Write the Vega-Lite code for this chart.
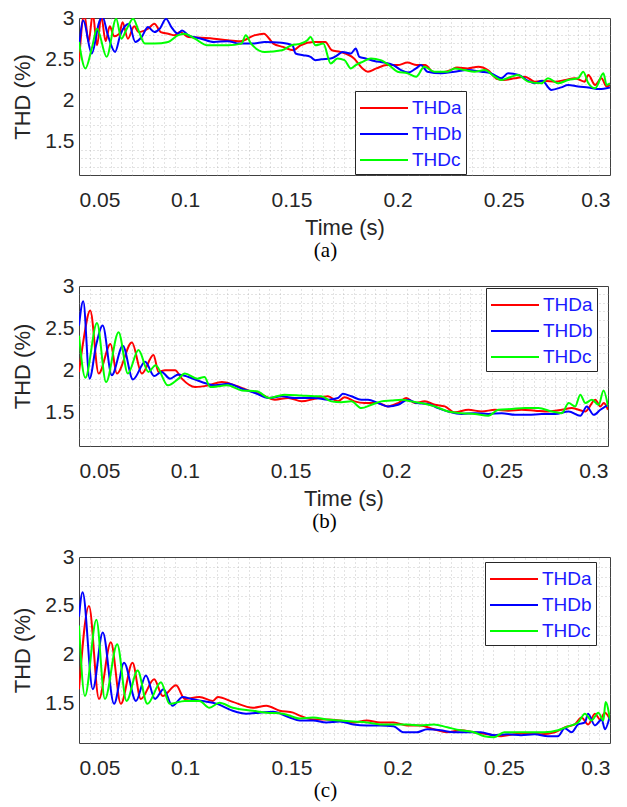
{
"$schema": "https://vega.github.io/schema/vega-lite/v6.json",
"background": "white",
"padding": {"left": 11, "top": 6, "right": 10, "bottom": 5},
"config": {
  "view": {"stroke": "#404040", "strokeWidth": 1},
  "font": "Liberation Sans",
  "axis": {"labelFont": "Liberation Sans", "labelFontSize": 21, "labelColor": "#262626", "titleFont": "Liberation Sans", "titleFontSize": 22, "titleColor": "#262626", "titleFontWeight": "normal", "ticks": false, "domain": false, "gridColor": "#d9d9d9", "gridWidth": 1},
  "legend": {"orient": "none", "symbolType": "M-2,0H2", "symbolSize": 576, "symbolStrokeWidth": 2, "symbolOffset": 12, "labelFontSize": 19, "labelColor": "#1a1aff", "labelFont": "Liberation Sans", "strokeColor": "#262626", "fillColor": "white", "padding": 4, "rowPadding": 3, "labelOffset": 15, "title": null},
  "title": {"font": "Liberation Serif", "fontSize": 21, "fontWeight": "normal", "color": "black", "orient": "bottom", "anchor": "middle", "dx": -19, "offset": 2},
  "concat": {"spacing": 12}
},
"datasets": {"thd": [
{"p":"a","s":"THDa","t":0.05,"v":2.47},{"p":"a","s":"THDa","t":0.0525,"v":3.05},{"p":"a","s":"THDa","t":0.0545,"v":2.71},{"p":"a","s":"THDa","t":0.0565,"v":3.05},{"p":"a","s":"THDa","t":0.0585,"v":2.67},{"p":"a","s":"THDa","t":0.0605,"v":3.02},{"p":"a","s":"THDa","t":0.0625,"v":2.72},{"p":"a","s":"THDa","t":0.0645,"v":2.9},{"p":"a","s":"THDa","t":0.0665,"v":2.78},{"p":"a","s":"THDa","t":0.069,"v":2.81},{"p":"a","s":"THDa","t":0.0705,"v":2.95},{"p":"a","s":"THDa","t":0.073,"v":2.75},{"p":"a","s":"THDa","t":0.076,"v":2.9},{"p":"a","s":"THDa","t":0.078,"v":2.83},{"p":"a","s":"THDa","t":0.0825,"v":2.87},{"p":"a","s":"THDa","t":0.0855,"v":2.93},{"p":"a","s":"THDa","t":0.0885,"v":2.83},{"p":"a","s":"THDa","t":0.092,"v":2.81},{"p":"a","s":"THDa","t":0.095,"v":2.79},{"p":"a","s":"THDa","t":0.0975,"v":2.83},{"p":"a","s":"THDa","t":0.1015,"v":2.77},{"p":"a","s":"THDa","t":0.1075,"v":2.76},{"p":"a","s":"THDa","t":0.1135,"v":2.75},{"p":"a","s":"THDa","t":0.12,"v":2.73},{"p":"a","s":"THDa","t":0.126,"v":2.72},{"p":"a","s":"THDa","t":0.1325,"v":2.79},{"p":"a","s":"THDa","t":0.137,"v":2.81},{"p":"a","s":"THDa","t":0.1415,"v":2.69},{"p":"a","s":"THDa","t":0.146,"v":2.65},{"p":"a","s":"THDa","t":0.151,"v":2.61},{"p":"a","s":"THDa","t":0.1543,"v":2.67},{"p":"a","s":"THDa","t":0.1606,"v":2.71},{"p":"a","s":"THDa","t":0.166,"v":2.71},{"p":"a","s":"THDa","t":0.169,"v":2.61},{"p":"a","s":"THDa","t":0.173,"v":2.59},{"p":"a","s":"THDa","t":0.1795,"v":2.51},{"p":"a","s":"THDa","t":0.1835,"v":2.39},{"p":"a","s":"THDa","t":0.186,"v":2.35},{"p":"a","s":"THDa","t":0.19,"v":2.39},{"p":"a","s":"THDa","t":0.195,"v":2.43},{"p":"a","s":"THDa","t":0.2,"v":2.43},{"p":"a","s":"THDa","t":0.2047,"v":2.46},{"p":"a","s":"THDa","t":0.209,"v":2.43},{"p":"a","s":"THDa","t":0.213,"v":2.43},{"p":"a","s":"THDa","t":0.2165,"v":2.35},{"p":"a","s":"THDa","t":0.22,"v":2.34},{"p":"a","s":"THDa","t":0.225,"v":2.37},{"p":"a","s":"THDa","t":0.228,"v":2.4},{"p":"a","s":"THDa","t":0.233,"v":2.39},{"p":"a","s":"THDa","t":0.238,"v":2.41},{"p":"a","s":"THDa","t":0.2425,"v":2.37},{"p":"a","s":"THDa","t":0.247,"v":2.26},{"p":"a","s":"THDa","t":0.25,"v":2.25},{"p":"a","s":"THDa","t":0.255,"v":2.27},{"p":"a","s":"THDa","t":0.26,"v":2.29},{"p":"a","s":"THDa","t":0.2646,"v":2.23},{"p":"a","s":"THDa","t":0.269,"v":2.24},{"p":"a","s":"THDa","t":0.274,"v":2.23},{"p":"a","s":"THDa","t":0.279,"v":2.25},{"p":"a","s":"THDa","t":0.2835,"v":2.27},{"p":"a","s":"THDa","t":0.288,"v":2.23},{"p":"a","s":"THDa","t":0.2898,"v":2.31},{"p":"a","s":"THDa","t":0.293,"v":2.19},{"p":"a","s":"THDa","t":0.296,"v":2.27},{"p":"a","s":"THDa","t":0.2984,"v":2.17},{"p":"a","s":"THDa","t":0.3,"v":2.19},
{"p":"a","s":"THDb","t":0.05,"v":2.63},{"p":"a","s":"THDb","t":0.052,"v":2.97},{"p":"a","s":"THDb","t":0.056,"v":2.57},{"p":"a","s":"THDb","t":0.0595,"v":2.95},{"p":"a","s":"THDb","t":0.061,"v":3.02},{"p":"a","s":"THDb","t":0.0635,"v":2.8},{"p":"a","s":"THDb","t":0.067,"v":2.59},{"p":"a","s":"THDb","t":0.0695,"v":2.8},{"p":"a","s":"THDb","t":0.0735,"v":2.93},{"p":"a","s":"THDb","t":0.0765,"v":2.71},{"p":"a","s":"THDb","t":0.0795,"v":2.77},{"p":"a","s":"THDb","t":0.0825,"v":2.89},{"p":"a","s":"THDb","t":0.0855,"v":2.83},{"p":"a","s":"THDb","t":0.088,"v":2.87},{"p":"a","s":"THDb","t":0.091,"v":2.99},{"p":"a","s":"THDb","t":0.0935,"v":2.89},{"p":"a","s":"THDb","t":0.0965,"v":2.81},{"p":"a","s":"THDb","t":0.0985,"v":2.85},{"p":"a","s":"THDb","t":0.1015,"v":2.79},{"p":"a","s":"THDb","t":0.1075,"v":2.75},{"p":"a","s":"THDb","t":0.1135,"v":2.71},{"p":"a","s":"THDb","t":0.12,"v":2.72},{"p":"a","s":"THDb","t":0.1255,"v":2.69},{"p":"a","s":"THDb","t":0.132,"v":2.69},{"p":"a","s":"THDb","t":0.1375,"v":2.71},{"p":"a","s":"THDb","t":0.1455,"v":2.7},{"p":"a","s":"THDb","t":0.1505,"v":2.67},{"p":"a","s":"THDb","t":0.152,"v":2.57},{"p":"a","s":"THDb","t":0.1555,"v":2.55},{"p":"a","s":"THDb","t":0.159,"v":2.53},{"p":"a","s":"THDb","t":0.1613,"v":2.49},{"p":"a","s":"THDb","t":0.164,"v":2.5},{"p":"a","s":"THDb","t":0.1685,"v":2.51},{"p":"a","s":"THDb","t":0.1717,"v":2.55},{"p":"a","s":"THDb","t":0.174,"v":2.59},{"p":"a","s":"THDb","t":0.178,"v":2.57},{"p":"a","s":"THDb","t":0.1803,"v":2.63},{"p":"a","s":"THDb","t":0.182,"v":2.53},{"p":"a","s":"THDb","t":0.185,"v":2.51},{"p":"a","s":"THDb","t":0.189,"v":2.48},{"p":"a","s":"THDb","t":0.1937,"v":2.46},{"p":"a","s":"THDb","t":0.198,"v":2.43},{"p":"a","s":"THDb","t":0.2016,"v":2.37},{"p":"a","s":"THDb","t":0.205,"v":2.34},{"p":"a","s":"THDb","t":0.2087,"v":2.39},{"p":"a","s":"THDb","t":0.211,"v":2.43},{"p":"a","s":"THDb","t":0.214,"v":2.35},{"p":"a","s":"THDb","t":0.2205,"v":2.33},{"p":"a","s":"THDb","t":0.2268,"v":2.35},{"p":"a","s":"THDb","t":0.233,"v":2.37},{"p":"a","s":"THDb","t":0.2394,"v":2.35},{"p":"a","s":"THDb","t":0.244,"v":2.33},{"p":"a","s":"THDb","t":0.2488,"v":2.27},{"p":"a","s":"THDb","t":0.252,"v":2.33},{"p":"a","s":"THDb","t":0.257,"v":2.31},{"p":"a","s":"THDb","t":0.2614,"v":2.24},{"p":"a","s":"THDb","t":0.2646,"v":2.21},{"p":"a","s":"THDb","t":0.268,"v":2.24},{"p":"a","s":"THDb","t":0.2724,"v":2.13},{"p":"a","s":"THDb","t":0.277,"v":2.16},{"p":"a","s":"THDb","t":0.2803,"v":2.19},{"p":"a","s":"THDb","t":0.285,"v":2.17},{"p":"a","s":"THDb","t":0.2898,"v":2.16},{"p":"a","s":"THDb","t":0.295,"v":2.14},{"p":"a","s":"THDb","t":0.3,"v":2.16},
{"p":"a","s":"THDc","t":0.05,"v":2.71},{"p":"a","s":"THDc","t":0.053,"v":2.39},{"p":"a","s":"THDc","t":0.056,"v":2.63},{"p":"a","s":"THDc","t":0.0585,"v":2.87},{"p":"a","s":"THDc","t":0.063,"v":2.53},{"p":"a","s":"THDc","t":0.0675,"v":2.99},{"p":"a","s":"THDc","t":0.07,"v":2.75},{"p":"a","s":"THDc","t":0.0725,"v":2.87},{"p":"a","s":"THDc","t":0.0755,"v":2.99},{"p":"a","s":"THDc","t":0.078,"v":2.85},{"p":"a","s":"THDc","t":0.081,"v":2.69},{"p":"a","s":"THDc","t":0.0855,"v":2.69},{"p":"a","s":"THDc","t":0.092,"v":2.71},{"p":"a","s":"THDc","t":0.0965,"v":2.79},{"p":"a","s":"THDc","t":0.0995,"v":2.81},{"p":"a","s":"THDc","t":0.1045,"v":2.75},{"p":"a","s":"THDc","t":0.1105,"v":2.67},{"p":"a","s":"THDc","t":0.12,"v":2.67},{"p":"a","s":"THDc","t":0.1265,"v":2.69},{"p":"a","s":"THDc","t":0.1285,"v":2.79},{"p":"a","s":"THDc","t":0.131,"v":2.69},{"p":"a","s":"THDc","t":0.1375,"v":2.59},{"p":"a","s":"THDc","t":0.1455,"v":2.61},{"p":"a","s":"THDc","t":0.15,"v":2.67},{"p":"a","s":"THDc","t":0.1543,"v":2.69},{"p":"a","s":"THDc","t":0.1575,"v":2.73},{"p":"a","s":"THDc","t":0.159,"v":2.77},{"p":"a","s":"THDc","t":0.1613,"v":2.67},{"p":"a","s":"THDc","t":0.165,"v":2.69},{"p":"a","s":"THDc","t":0.1685,"v":2.45},{"p":"a","s":"THDc","t":0.1717,"v":2.51},{"p":"a","s":"THDc","t":0.175,"v":2.49},{"p":"a","s":"THDc","t":0.178,"v":2.39},{"p":"a","s":"THDc","t":0.1803,"v":2.43},{"p":"a","s":"THDc","t":0.1835,"v":2.47},{"p":"a","s":"THDc","t":0.1874,"v":2.51},{"p":"a","s":"THDc","t":0.192,"v":2.49},{"p":"a","s":"THDc","t":0.196,"v":2.43},{"p":"a","s":"THDc","t":0.2,"v":2.35},{"p":"a","s":"THDc","t":0.2047,"v":2.33},{"p":"a","s":"THDc","t":0.2087,"v":2.29},{"p":"a","s":"THDc","t":0.2126,"v":2.41},{"p":"a","s":"THDc","t":0.2173,"v":2.35},{"p":"a","s":"THDc","t":0.2236,"v":2.35},{"p":"a","s":"THDc","t":0.2268,"v":2.39},{"p":"a","s":"THDc","t":0.2315,"v":2.37},{"p":"a","s":"THDc","t":0.2362,"v":2.35},{"p":"a","s":"THDc","t":0.241,"v":2.37},{"p":"a","s":"THDc","t":0.2457,"v":2.29},{"p":"a","s":"THDc","t":0.2488,"v":2.25},{"p":"a","s":"THDc","t":0.2535,"v":2.29},{"p":"a","s":"THDc","t":0.2567,"v":2.31},{"p":"a","s":"THDc","t":0.2614,"v":2.23},{"p":"a","s":"THDc","t":0.2677,"v":2.21},{"p":"a","s":"THDc","t":0.2708,"v":2.27},{"p":"a","s":"THDc","t":0.2756,"v":2.21},{"p":"a","s":"THDc","t":0.2803,"v":2.25},{"p":"a","s":"THDc","t":0.285,"v":2.27},{"p":"a","s":"THDc","t":0.2874,"v":2.35},{"p":"a","s":"THDc","t":0.2898,"v":2.21},{"p":"a","s":"THDc","t":0.293,"v":2.15},{"p":"a","s":"THDc","t":0.2969,"v":2.33},{"p":"a","s":"THDc","t":0.2984,"v":2.19},{"p":"a","s":"THDc","t":0.3,"v":2.21},
{"p":"b","s":"THDa","t":0.05,"v":1.98},{"p":"b","s":"THDa","t":0.0522,"v":2.37},{"p":"b","s":"THDa","t":0.0553,"v":2.71},{"p":"b","s":"THDa","t":0.0593,"v":1.96},{"p":"b","s":"THDa","t":0.0649,"v":2.31},{"p":"b","s":"THDa","t":0.0679,"v":1.96},{"p":"b","s":"THDa","t":0.075,"v":2.33},{"p":"b","s":"THDa","t":0.0797,"v":1.96},{"p":"b","s":"THDa","t":0.0852,"v":2.18},{"p":"b","s":"THDa","t":0.0876,"v":1.98},{"p":"b","s":"THDa","t":0.0907,"v":2.0},{"p":"b","s":"THDa","t":0.0954,"v":2.0},{"p":"b","s":"THDa","t":0.0986,"v":1.9},{"p":"b","s":"THDa","t":0.1049,"v":1.8},{"p":"b","s":"THDa","t":0.1112,"v":1.82},{"p":"b","s":"THDa","t":0.1175,"v":1.86},{"p":"b","s":"THDa","t":0.1237,"v":1.82},{"p":"b","s":"THDa","t":0.13,"v":1.76},{"p":"b","s":"THDa","t":0.1363,"v":1.71},{"p":"b","s":"THDa","t":0.1426,"v":1.65},{"p":"b","s":"THDa","t":0.1489,"v":1.67},{"p":"b","s":"THDa","t":0.1552,"v":1.63},{"p":"b","s":"THDa","t":0.1613,"v":1.66},{"p":"b","s":"THDa","t":0.1676,"v":1.69},{"p":"b","s":"THDa","t":0.1724,"v":1.63},{"p":"b","s":"THDa","t":0.1755,"v":1.68},{"p":"b","s":"THDa","t":0.1802,"v":1.63},{"p":"b","s":"THDa","t":0.185,"v":1.61},{"p":"b","s":"THDa","t":0.1913,"v":1.61},{"p":"b","s":"THDa","t":0.196,"v":1.57},{"p":"b","s":"THDa","t":0.2008,"v":1.61},{"p":"b","s":"THDa","t":0.2047,"v":1.67},{"p":"b","s":"THDa","t":0.2087,"v":1.61},{"p":"b","s":"THDa","t":0.2134,"v":1.63},{"p":"b","s":"THDa","t":0.2182,"v":1.59},{"p":"b","s":"THDa","t":0.2229,"v":1.57},{"p":"b","s":"THDa","t":0.2276,"v":1.5},{"p":"b","s":"THDa","t":0.234,"v":1.53},{"p":"b","s":"THDa","t":0.2403,"v":1.51},{"p":"b","s":"THDa","t":0.2466,"v":1.53},{"p":"b","s":"THDa","t":0.2529,"v":1.52},{"p":"b","s":"THDa","t":0.2592,"v":1.53},{"p":"b","s":"THDa","t":0.2656,"v":1.52},{"p":"b","s":"THDa","t":0.2719,"v":1.51},{"p":"b","s":"THDa","t":0.2782,"v":1.53},{"p":"b","s":"THDa","t":0.2829,"v":1.55},{"p":"b","s":"THDa","t":0.2893,"v":1.51},{"p":"b","s":"THDa","t":0.294,"v":1.65},{"p":"b","s":"THDa","t":0.2964,"v":1.57},{"p":"b","s":"THDa","t":0.298,"v":1.61},{"p":"b","s":"THDa","t":0.3,"v":1.53},
{"p":"b","s":"THDb","t":0.05,"v":2.53},{"p":"b","s":"THDb","t":0.052,"v":2.82},{"p":"b","s":"THDb","t":0.055,"v":1.9},{"p":"b","s":"THDb","t":0.0581,"v":2.3},{"p":"b","s":"THDb","t":0.0612,"v":2.53},{"p":"b","s":"THDb","t":0.0655,"v":1.94},{"p":"b","s":"THDb","t":0.0707,"v":2.29},{"p":"b","s":"THDb","t":0.0755,"v":1.89},{"p":"b","s":"THDb","t":0.0813,"v":2.1},{"p":"b","s":"THDb","t":0.0855,"v":1.93},{"p":"b","s":"THDb","t":0.089,"v":1.98},{"p":"b","s":"THDb","t":0.093,"v":1.9},{"p":"b","s":"THDb","t":0.097,"v":1.95},{"p":"b","s":"THDb","t":0.1017,"v":1.92},{"p":"b","s":"THDb","t":0.108,"v":1.86},{"p":"b","s":"THDb","t":0.1143,"v":1.82},{"p":"b","s":"THDb","t":0.1206,"v":1.84},{"p":"b","s":"THDb","t":0.127,"v":1.78},{"p":"b","s":"THDb","t":0.1332,"v":1.73},{"p":"b","s":"THDb","t":0.1395,"v":1.67},{"p":"b","s":"THDb","t":0.1458,"v":1.69},{"p":"b","s":"THDb","t":0.152,"v":1.67},{"p":"b","s":"THDb","t":0.1613,"v":1.67},{"p":"b","s":"THDb","t":0.1676,"v":1.65},{"p":"b","s":"THDb","t":0.1724,"v":1.67},{"p":"b","s":"THDb","t":0.1747,"v":1.72},{"p":"b","s":"THDb","t":0.1787,"v":1.69},{"p":"b","s":"THDb","t":0.1834,"v":1.65},{"p":"b","s":"THDb","t":0.1866,"v":1.65},{"p":"b","s":"THDb","t":0.1913,"v":1.61},{"p":"b","s":"THDb","t":0.196,"v":1.57},{"p":"b","s":"THDb","t":0.2008,"v":1.59},{"p":"b","s":"THDb","t":0.2055,"v":1.65},{"p":"b","s":"THDb","t":0.2095,"v":1.61},{"p":"b","s":"THDb","t":0.215,"v":1.6},{"p":"b","s":"THDb","t":0.2197,"v":1.55},{"p":"b","s":"THDb","t":0.2245,"v":1.51},{"p":"b","s":"THDb","t":0.2308,"v":1.48},{"p":"b","s":"THDb","t":0.2371,"v":1.49},{"p":"b","s":"THDb","t":0.2434,"v":1.48},{"p":"b","s":"THDb","t":0.2498,"v":1.49},{"p":"b","s":"THDb","t":0.2561,"v":1.47},{"p":"b","s":"THDb","t":0.2624,"v":1.47},{"p":"b","s":"THDb","t":0.2687,"v":1.48},{"p":"b","s":"THDb","t":0.275,"v":1.48},{"p":"b","s":"THDb","t":0.2814,"v":1.51},{"p":"b","s":"THDb","t":0.2869,"v":1.46},{"p":"b","s":"THDb","t":0.29,"v":1.57},{"p":"b","s":"THDb","t":0.2932,"v":1.47},{"p":"b","s":"THDb","t":0.2964,"v":1.53},{"p":"b","s":"THDb","t":0.3,"v":1.59},
{"p":"b","s":"THDc","t":0.05,"v":2.41},{"p":"b","s":"THDc","t":0.053,"v":1.91},{"p":"b","s":"THDc","t":0.0585,"v":2.56},{"p":"b","s":"THDc","t":0.0628,"v":1.86},{"p":"b","s":"THDc","t":0.0687,"v":2.45},{"p":"b","s":"THDc","t":0.0731,"v":1.96},{"p":"b","s":"THDc","t":0.0781,"v":2.24},{"p":"b","s":"THDc","t":0.0828,"v":1.98},{"p":"b","s":"THDc","t":0.0862,"v":2.06},{"p":"b","s":"THDc","t":0.092,"v":1.82},{"p":"b","s":"THDc","t":0.097,"v":1.9},{"p":"b","s":"THDc","t":0.1,"v":1.96},{"p":"b","s":"THDc","t":0.106,"v":1.9},{"p":"b","s":"THDc","t":0.1093,"v":1.92},{"p":"b","s":"THDc","t":0.112,"v":1.8},{"p":"b","s":"THDc","t":0.12,"v":1.82},{"p":"b","s":"THDc","t":0.127,"v":1.76},{"p":"b","s":"THDc","t":0.134,"v":1.75},{"p":"b","s":"THDc","t":0.14,"v":1.67},{"p":"b","s":"THDc","t":0.147,"v":1.71},{"p":"b","s":"THDc","t":0.155,"v":1.7},{"p":"b","s":"THDc","t":0.1613,"v":1.69},{"p":"b","s":"THDc","t":0.1645,"v":1.69},{"p":"b","s":"THDc","t":0.1692,"v":1.63},{"p":"b","s":"THDc","t":0.174,"v":1.62},{"p":"b","s":"THDc","t":0.1787,"v":1.63},{"p":"b","s":"THDc","t":0.1834,"v":1.55},{"p":"b","s":"THDc","t":0.1882,"v":1.59},{"p":"b","s":"THDc","t":0.1929,"v":1.63},{"p":"b","s":"THDc","t":0.1976,"v":1.64},{"p":"b","s":"THDc","t":0.2024,"v":1.65},{"p":"b","s":"THDc","t":0.2071,"v":1.63},{"p":"b","s":"THDc","t":0.2118,"v":1.61},{"p":"b","s":"THDc","t":0.2182,"v":1.57},{"p":"b","s":"THDc","t":0.2245,"v":1.51},{"p":"b","s":"THDc","t":0.2308,"v":1.49},{"p":"b","s":"THDc","t":0.2371,"v":1.48},{"p":"b","s":"THDc","t":0.2434,"v":1.46},{"p":"b","s":"THDc","t":0.2482,"v":1.53},{"p":"b","s":"THDc","t":0.2545,"v":1.54},{"p":"b","s":"THDc","t":0.2608,"v":1.55},{"p":"b","s":"THDc","t":0.2671,"v":1.55},{"p":"b","s":"THDc","t":0.2735,"v":1.51},{"p":"b","s":"THDc","t":0.2782,"v":1.49},{"p":"b","s":"THDc","t":0.2814,"v":1.61},{"p":"b","s":"THDc","t":0.2845,"v":1.57},{"p":"b","s":"THDc","t":0.2869,"v":1.71},{"p":"b","s":"THDc","t":0.2893,"v":1.61},{"p":"b","s":"THDc","t":0.2924,"v":1.65},{"p":"b","s":"THDc","t":0.2956,"v":1.59},{"p":"b","s":"THDc","t":0.2979,"v":1.76},{"p":"b","s":"THDc","t":0.3,"v":1.57},
{"p":"c","s":"THDa","t":0.05,"v":1.65},{"p":"c","s":"THDa","t":0.0547,"v":2.5},{"p":"c","s":"THDa","t":0.0594,"v":1.55},{"p":"c","s":"THDa","t":0.065,"v":2.13},{"p":"c","s":"THDa","t":0.0697,"v":1.5},{"p":"c","s":"THDa","t":0.0752,"v":1.92},{"p":"c","s":"THDa","t":0.0791,"v":1.55},{"p":"c","s":"THDa","t":0.0854,"v":1.75},{"p":"c","s":"THDa","t":0.0894,"v":1.58},{"p":"c","s":"THDa","t":0.0957,"v":1.69},{"p":"c","s":"THDa","t":0.0998,"v":1.55},{"p":"c","s":"THDa","t":0.1067,"v":1.57},{"p":"c","s":"THDa","t":0.113,"v":1.53},{"p":"c","s":"THDa","t":0.1154,"v":1.57},{"p":"c","s":"THDa","t":0.1224,"v":1.52},{"p":"c","s":"THDa","t":0.1319,"v":1.46},{"p":"c","s":"THDa","t":0.1382,"v":1.48},{"p":"c","s":"THDa","t":0.1445,"v":1.43},{"p":"c","s":"THDa","t":0.1508,"v":1.41},{"p":"c","s":"THDa","t":0.1539,"v":1.38},{"p":"c","s":"THDa","t":0.1602,"v":1.34},{"p":"c","s":"THDa","t":0.1665,"v":1.34},{"p":"c","s":"THDa","t":0.1728,"v":1.33},{"p":"c","s":"THDa","t":0.1792,"v":1.31},{"p":"c","s":"THDa","t":0.1855,"v":1.33},{"p":"c","s":"THDa","t":0.1918,"v":1.31},{"p":"c","s":"THDa","t":0.1981,"v":1.31},{"p":"c","s":"THDa","t":0.2044,"v":1.28},{"p":"c","s":"THDa","t":0.2107,"v":1.28},{"p":"c","s":"THDa","t":0.2171,"v":1.24},{"p":"c","s":"THDa","t":0.2234,"v":1.21},{"p":"c","s":"THDa","t":0.2297,"v":1.23},{"p":"c","s":"THDa","t":0.236,"v":1.21},{"p":"c","s":"THDa","t":0.2424,"v":1.19},{"p":"c","s":"THDa","t":0.2487,"v":1.17},{"p":"c","s":"THDa","t":0.255,"v":1.19},{"p":"c","s":"THDa","t":0.2613,"v":1.2},{"p":"c","s":"THDa","t":0.2676,"v":1.19},{"p":"c","s":"THDa","t":0.274,"v":1.21},{"p":"c","s":"THDa","t":0.2787,"v":1.26},{"p":"c","s":"THDa","t":0.2834,"v":1.29},{"p":"c","s":"THDa","t":0.2866,"v":1.36},{"p":"c","s":"THDa","t":0.2897,"v":1.29},{"p":"c","s":"THDa","t":0.2929,"v":1.4},{"p":"c","s":"THDa","t":0.2953,"v":1.34},{"p":"c","s":"THDa","t":0.2976,"v":1.41},{"p":"c","s":"THDa","t":0.3,"v":1.34},
{"p":"c","s":"THDb","t":0.05,"v":2.39},{"p":"c","s":"THDb","t":0.0517,"v":2.64},{"p":"c","s":"THDb","t":0.0565,"v":1.65},{"p":"c","s":"THDb","t":0.0612,"v":2.23},{"p":"c","s":"THDb","t":0.0665,"v":1.5},{"p":"c","s":"THDb","t":0.0712,"v":1.92},{"p":"c","s":"THDb","t":0.0768,"v":1.53},{"p":"c","s":"THDb","t":0.0815,"v":1.79},{"p":"c","s":"THDb","t":0.0858,"v":1.55},{"p":"c","s":"THDb","t":0.0898,"v":1.65},{"p":"c","s":"THDb","t":0.094,"v":1.48},{"p":"c","s":"THDb","t":0.0988,"v":1.57},{"p":"c","s":"THDb","t":0.103,"v":1.55},{"p":"c","s":"THDb","t":0.108,"v":1.53},{"p":"c","s":"THDb","t":0.115,"v":1.5},{"p":"c","s":"THDb","t":0.1224,"v":1.43},{"p":"c","s":"THDb","t":0.1287,"v":1.4},{"p":"c","s":"THDb","t":0.135,"v":1.41},{"p":"c","s":"THDb","t":0.1413,"v":1.42},{"p":"c","s":"THDb","t":0.1492,"v":1.36},{"p":"c","s":"THDb","t":0.1539,"v":1.33},{"p":"c","s":"THDb","t":0.1602,"v":1.33},{"p":"c","s":"THDb","t":0.1665,"v":1.31},{"p":"c","s":"THDb","t":0.1728,"v":1.32},{"p":"c","s":"THDb","t":0.1792,"v":1.29},{"p":"c","s":"THDb","t":0.1855,"v":1.28},{"p":"c","s":"THDb","t":0.1918,"v":1.28},{"p":"c","s":"THDb","t":0.1981,"v":1.27},{"p":"c","s":"THDb","t":0.2028,"v":1.21},{"p":"c","s":"THDb","t":0.2091,"v":1.21},{"p":"c","s":"THDb","t":0.2139,"v":1.24},{"p":"c","s":"THDb","t":0.2202,"v":1.23},{"p":"c","s":"THDb","t":0.2265,"v":1.21},{"p":"c","s":"THDb","t":0.2329,"v":1.21},{"p":"c","s":"THDb","t":0.2392,"v":1.21},{"p":"c","s":"THDb","t":0.2455,"v":1.18},{"p":"c","s":"THDb","t":0.2518,"v":1.19},{"p":"c","s":"THDb","t":0.2581,"v":1.18},{"p":"c","s":"THDb","t":0.2645,"v":1.19},{"p":"c","s":"THDb","t":0.2708,"v":1.17},{"p":"c","s":"THDb","t":0.2755,"v":1.17},{"p":"c","s":"THDb","t":0.2787,"v":1.25},{"p":"c","s":"THDb","t":0.2819,"v":1.21},{"p":"c","s":"THDb","t":0.285,"v":1.29},{"p":"c","s":"THDb","t":0.2882,"v":1.31},{"p":"c","s":"THDb","t":0.2897,"v":1.4},{"p":"c","s":"THDb","t":0.2929,"v":1.28},{"p":"c","s":"THDb","t":0.2961,"v":1.34},{"p":"c","s":"THDb","t":0.2976,"v":1.24},{"p":"c","s":"THDb","t":0.3,"v":1.38},
{"p":"c","s":"THDc","t":0.05,"v":2.3},{"p":"c","s":"THDc","t":0.0528,"v":1.58},{"p":"c","s":"THDc","t":0.0582,"v":2.36},{"p":"c","s":"THDc","t":0.0622,"v":1.55},{"p":"c","s":"THDc","t":0.068,"v":2.11},{"p":"c","s":"THDc","t":0.0724,"v":1.53},{"p":"c","s":"THDc","t":0.0776,"v":1.84},{"p":"c","s":"THDc","t":0.0822,"v":1.5},{"p":"c","s":"THDc","t":0.0886,"v":1.72},{"p":"c","s":"THDc","t":0.0926,"v":1.5},{"p":"c","s":"THDc","t":0.0998,"v":1.53},{"p":"c","s":"THDc","t":0.1067,"v":1.53},{"p":"c","s":"THDc","t":0.1114,"v":1.46},{"p":"c","s":"THDc","t":0.1161,"v":1.51},{"p":"c","s":"THDc","t":0.1224,"v":1.46},{"p":"c","s":"THDc","t":0.1319,"v":1.43},{"p":"c","s":"THDc","t":0.1382,"v":1.41},{"p":"c","s":"THDc","t":0.146,"v":1.4},{"p":"c","s":"THDc","t":0.1539,"v":1.35},{"p":"c","s":"THDc","t":0.1602,"v":1.36},{"p":"c","s":"THDc","t":0.1665,"v":1.34},{"p":"c","s":"THDc","t":0.1728,"v":1.33},{"p":"c","s":"THDc","t":0.1792,"v":1.32},{"p":"c","s":"THDc","t":0.1855,"v":1.31},{"p":"c","s":"THDc","t":0.1918,"v":1.29},{"p":"c","s":"THDc","t":0.1981,"v":1.29},{"p":"c","s":"THDc","t":0.2044,"v":1.29},{"p":"c","s":"THDc","t":0.2107,"v":1.28},{"p":"c","s":"THDc","t":0.2171,"v":1.29},{"p":"c","s":"THDc","t":0.2234,"v":1.26},{"p":"c","s":"THDc","t":0.2297,"v":1.23},{"p":"c","s":"THDc","t":0.236,"v":1.21},{"p":"c","s":"THDc","t":0.2408,"v":1.17},{"p":"c","s":"THDc","t":0.2455,"v":1.16},{"p":"c","s":"THDc","t":0.2502,"v":1.21},{"p":"c","s":"THDc","t":0.2566,"v":1.21},{"p":"c","s":"THDc","t":0.2629,"v":1.21},{"p":"c","s":"THDc","t":0.2692,"v":1.21},{"p":"c","s":"THDc","t":0.2755,"v":1.23},{"p":"c","s":"THDc","t":0.2803,"v":1.27},{"p":"c","s":"THDc","t":0.285,"v":1.31},{"p":"c","s":"THDc","t":0.2882,"v":1.4},{"p":"c","s":"THDc","t":0.2913,"v":1.33},{"p":"c","s":"THDc","t":0.2945,"v":1.41},{"p":"c","s":"THDc","t":0.2969,"v":1.33},{"p":"c","s":"THDc","t":0.2979,"v":1.52},{"p":"c","s":"THDc","t":0.3,"v":1.34}
]},
"vconcat": [
{
  "width": 531, "height": 157,
  "title": {"text": "(a)"},
  "data": {"name": "thd"},
  "transform": [{"filter": "datum.p == 'a'"}],
  "layer": [
    {"mark": {"type": "point", "opacity": 0},
     "encoding": {
       "x": {"field": "t", "type": "quantitative", "scale": {"domain": [0.05, 0.3], "nice": false, "zero": false}, "axis": {"orient": "top", "values": [0.055,0.06,0.065,0.07,0.075,0.08,0.085,0.09,0.095,0.105,0.11,0.115,0.12,0.125,0.13,0.135,0.14,0.145,0.155,0.16,0.165,0.17,0.175,0.18,0.185,0.19,0.195,0.205,0.21,0.215,0.22,0.225,0.23,0.235,0.24,0.245,0.255,0.26,0.265,0.27,0.275,0.28,0.285,0.29,0.295], "labels": false, "title": null, "gridDash": [1,3], "gridColor": "#a0a0a0", "gridOpacity": 0.6}},
       "y": {"field": "v", "type": "quantitative", "scale": {"domain": [1.1, 3], "nice": false, "zero": false}, "axis": {"orient": "right", "values": [1.2,1.3,1.4,1.6,1.7,1.8,1.9,2.1,2.2,2.3,2.4,2.6,2.7,2.8,2.9], "labels": false, "title": null, "gridDash": [1,3], "gridColor": "#a0a0a0", "gridOpacity": 0.6}}
     }},
    {"mark": {"type": "line", "strokeWidth": 2, "clip": true, "interpolate": "monotone"},
     "encoding": {
       "x": {"field": "t", "type": "quantitative", "axis": {"values": [0.05,0.1,0.15,0.2,0.25,0.3], "format": "~g", "title": "Time (s)", "labelPadding": 14, "titlePadding": 7}},
       "y": {"field": "v", "type": "quantitative", "axis": {"values": [1.5,2,2.5,3], "format": "~g", "title": "THD (%)", "labelPadding": 5, "titlePadding": 10}},
       "color": {"field": "s", "type": "nominal", "scale": {"domain": ["THDa","THDb","THDc"], "range": ["#ff0000","#0000ff","#00ff00"]}, "legend": {"legendX": 276, "legendY": 73}}
     }}
  ],
  "resolve": {"axis": {"x": "independent", "y": "independent"}}
},
{
  "width": 529, "height": 160,
  "title": {"text": "(b)"},
  "data": {"name": "thd"},
  "transform": [{"filter": "datum.p == 'b'"}],
  "layer": [
    {"mark": {"type": "point", "opacity": 0},
     "encoding": {
       "x": {"field": "t", "type": "quantitative", "scale": {"domain": [0.05, 0.3], "nice": false, "zero": false}, "axis": {"orient": "top", "values": [0.055,0.06,0.065,0.07,0.075,0.08,0.085,0.09,0.095,0.105,0.11,0.115,0.12,0.125,0.13,0.135,0.14,0.145,0.155,0.16,0.165,0.17,0.175,0.18,0.185,0.19,0.195,0.205,0.21,0.215,0.22,0.225,0.23,0.235,0.24,0.245,0.255,0.26,0.265,0.27,0.275,0.28,0.285,0.29,0.295], "labels": false, "title": null, "gridDash": [1,3], "gridColor": "#a0a0a0", "gridOpacity": 0.6}},
       "y": {"field": "v", "type": "quantitative", "scale": {"domain": [1.1, 3], "nice": false, "zero": false}, "axis": {"orient": "right", "values": [1.2,1.3,1.4,1.6,1.7,1.8,1.9,2.1,2.2,2.3,2.4,2.6,2.7,2.8,2.9], "labels": false, "title": null, "gridDash": [1,3], "gridColor": "#a0a0a0", "gridOpacity": 0.6}}
     }},
    {"mark": {"type": "line", "strokeWidth": 2, "clip": true, "interpolate": "monotone"},
     "encoding": {
       "x": {"field": "t", "type": "quantitative", "axis": {"values": [0.05,0.1,0.15,0.2,0.25,0.3], "format": "~g", "title": "Time (s)", "labelPadding": 14, "titlePadding": 7}},
       "y": {"field": "v", "type": "quantitative", "axis": {"values": [1.5,2,2.5,3], "format": "~g", "title": "THD (%)", "labelPadding": 5, "titlePadding": 10}},
       "color": {"field": "s", "type": "nominal", "scale": {"domain": ["THDa","THDb","THDc"], "range": ["#ff0000","#0000ff","#00ff00"]}, "legend": {"legendX": 407, "legendY": 2}}
     }}
  ],
  "resolve": {"axis": {"x": "independent", "y": "independent"}}
},
{
  "width": 531, "height": 186,
  "title": {"text": "(c)"},
  "data": {"name": "thd"},
  "transform": [{"filter": "datum.p == 'c'"}],
  "layer": [
    {"mark": {"type": "point", "opacity": 0},
     "encoding": {
       "x": {"field": "t", "type": "quantitative", "scale": {"domain": [0.05, 0.3], "nice": false, "zero": false}, "axis": {"orient": "top", "values": [0.055,0.06,0.065,0.07,0.075,0.08,0.085,0.09,0.095,0.105,0.11,0.115,0.12,0.125,0.13,0.135,0.14,0.145,0.155,0.16,0.165,0.17,0.175,0.18,0.185,0.19,0.195,0.205,0.21,0.215,0.22,0.225,0.23,0.235,0.24,0.245,0.255,0.26,0.265,0.27,0.275,0.28,0.285,0.29,0.295], "labels": false, "title": null, "gridDash": [1,3], "gridColor": "#a0a0a0", "gridOpacity": 0.6}},
       "y": {"field": "v", "type": "quantitative", "scale": {"domain": [1.1, 3], "nice": false, "zero": false}, "axis": {"orient": "right", "values": [1.2,1.3,1.4,1.6,1.7,1.8,1.9,2.1,2.2,2.3,2.4,2.6,2.7,2.8,2.9], "labels": false, "title": null, "gridDash": [1,3], "gridColor": "#a0a0a0", "gridOpacity": 0.6}}
     }},
    {"mark": {"type": "line", "strokeWidth": 2, "clip": true, "interpolate": "monotone"},
     "encoding": {
       "x": {"field": "t", "type": "quantitative", "axis": {"values": [0.05,0.1,0.15,0.2,0.25,0.3], "format": "~g", "title": null, "labelPadding": 14}},
       "y": {"field": "v", "type": "quantitative", "axis": {"values": [1.5,2,2.5,3], "format": "~g", "title": "THD (%)", "labelPadding": 5, "titlePadding": 10}},
       "color": {"field": "s", "type": "nominal", "scale": {"domain": ["THDa","THDb","THDc"], "range": ["#ff0000","#0000ff","#00ff00"]}, "legend": {"legendX": 406, "legendY": 5}}
     }}
  ],
  "resolve": {"axis": {"x": "independent", "y": "independent"}}
}
],
"resolve": {"scale": {"color": "independent"}, "legend": {"color": "independent"}}
}
